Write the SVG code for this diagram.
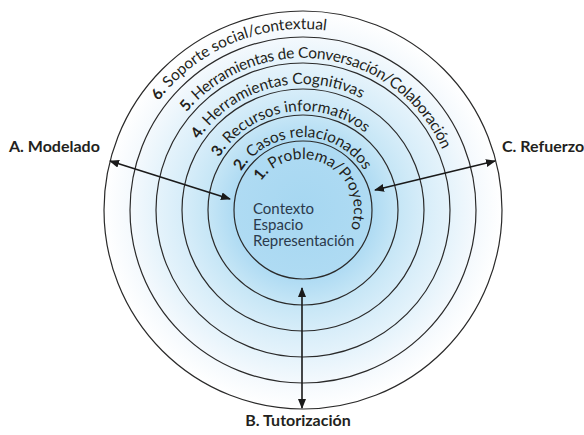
<svg xmlns="http://www.w3.org/2000/svg" width="584" height="435" viewBox="0 0 584 435">
  <defs>
    <radialGradient id="bg" gradientUnits="userSpaceOnUse" cx="303" cy="210" r="199">
      <stop offset="0" stop-color="#a6d7f1"/>
      <stop offset="0.35" stop-color="#afdbf3"/>
      <stop offset="0.48" stop-color="#c6e6f6"/>
      <stop offset="0.61" stop-color="#d7edf9"/>
      <stop offset="0.74" stop-color="#e5f3fb"/>
      <stop offset="0.87" stop-color="#f4f9fd"/>
      <stop offset="1" stop-color="#ffffff"/>
    </radialGradient>
    <marker id="ah" viewBox="0 0 10 8" refX="9" refY="4" markerWidth="10" markerHeight="8" markerUnits="userSpaceOnUse" orient="auto-start-reverse">
      <path d="M0,0 L10,4 L0,8 Z" fill="#1a1a1a"/>
    </marker>
    <path id="p6" d="M124.75,241.43 A181,181 0 1 1 334.43,388.25"/>
    <path id="p5" d="M153.31,236.39 A152,152 0 1 1 329.39,359.69"/>
    <path id="p4" d="M178.92,231.87 A126,126 0 1 1 324.87,334.08"/>
    <path id="p3" d="M205.50,227.19 A99,99 0 1 1 320.19,307.50"/>
    <path id="p2" d="M231.11,222.67 A73,73 0 1 1 315.67,281.89"/>
    <path id="p1" d="M252.78,218.85 A51,51 0 1 1 311.85,260.22"/>
  </defs>
  <style>
    .ring { fill: url(#bg); stroke: #2a2a2a; stroke-width: 1.2; }
    .rt { font-family: Lato, "Open Sans", sans-serif; font-size: 15.5px; fill: #231f20; }
    .num { font-weight: bold; }
    .inner { font-family: Lato, "Open Sans", sans-serif; font-size: 15px; fill: #2b3a4c; }
    .lbl { font-family: Lato, "Open Sans", sans-serif; font-size: 16px; font-weight: bold; fill: #231f20; }
    .conn { stroke: #1a1a1a; stroke-width: 1.6; fill: none; marker-start: url(#ah); marker-end: url(#ah); }
  </style>

  <g id="ring-6">
    <circle class="ring" cx="303" cy="210" r="199"/>
  </g>
  <g id="ring-5">
    <circle class="ring" cx="303" cy="210" r="173"/>
  </g>
  <g id="ring-4">
    <circle class="ring" cx="303" cy="210" r="147"/>
  </g>
  <g id="ring-3">
    <circle class="ring" cx="303" cy="210" r="121"/>
  </g>
  <g id="ring-2">
    <circle class="ring" cx="303" cy="210" r="95"/>
  </g>
  <g id="ring-1">
    <circle class="ring" cx="303" cy="210" r="69"/>
  </g>

  <g id="ring-labels">
    <text class="rt"><textPath href="#p6" startOffset="148.5"><tspan class="num">6.</tspan> Soporte social/contextual</textPath></text>
    <text class="rt" letter-spacing="-0.3"><textPath href="#p5" startOffset="132.6"><tspan class="num">5.</tspan> Herramientas de Conversación/Colaboración</textPath></text>
    <text class="rt"><textPath href="#p4" startOffset="96.8"><tspan class="num">4.</tspan> Herramientas Cognitivas</textPath></text>
    <text class="rt"><textPath href="#p3" startOffset="72.6"><tspan class="num">3.</tspan> Recursos informativos</textPath></text>
    <text class="rt"><textPath href="#p2" startOffset="53.5"><tspan class="num">2.</tspan> Casos relacionados</textPath></text>
    <text class="rt"><textPath href="#p1" startOffset="39.2"><tspan class="num">1.</tspan> Problema/Proyecto</textPath></text>
  </g>

  <g id="core">
    <text class="inner" x="253" y="214">Contexto</text>
    <text class="inner" x="253" y="230">Espacio</text>
    <text class="inner" x="253" y="246">Representación</text>
  </g>

  <g id="connectors">
    <line class="conn" x1="110" y1="161" x2="230" y2="199"/>
    <line class="conn" x1="495" y1="161" x2="375" y2="190"/>
    <line class="conn" x1="302" y1="288" x2="302" y2="408"/>
  </g>

  <g id="label-A">
    <text class="lbl" x="9" y="152">A. Modelado</text>
  </g>
  <g id="label-C">
    <text class="lbl" x="502" y="152">C. Refuerzo</text>
  </g>
  <g id="label-B">
    <text class="lbl" x="298" y="426" text-anchor="middle">B. Tutorización</text>
  </g>
</svg>
